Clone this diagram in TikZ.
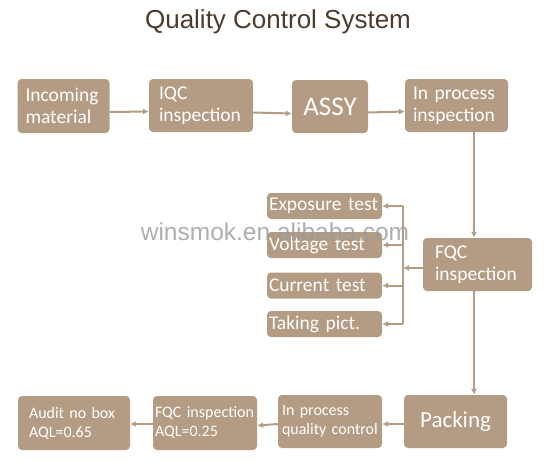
\documentclass[tikz,border=0pt]{standalone}
\usepackage{fontspec}
\setmainfont{Liberation Sans}
\newfontfamily\carlito{Carlito}
\usetikzlibrary{arrows.meta}
\definecolor{boxc}{HTML}{B39C83}
\definecolor{arrc}{HTML}{B39C83}
\definecolor{titlec}{HTML}{4B3B2C}
\definecolor{wmc}{HTML}{9A9A9A}
\newcommand{\nohy}{\hyphenpenalty=10000\exhyphenpenalty=10000\relax}
\tikzset{
  box/.style={rectangle, rounded corners=4pt, fill=boxc, text=white, inner ysep=0pt, align=left},
  arr/.style={draw=arrc, line width=2pt, -{Latex[length=6pt,width=6pt]}},
  ln/.style={draw=arrc, line width=2pt},
  big/.style={font=\carlito\nohy\fontsize{19.5}{22}\selectfont},
  test/.style={box, minimum width=115pt, minimum height=26pt, inner xsep=2pt, text width=111pt, font=\carlito\nohy\fontsize{19.5}{22}\selectfont},
  small/.style={font=\carlito\nohy\fontsize{16}{19}\selectfont}
}
\begin{document}
\begin{tikzpicture}[x=1pt,y=-1pt]
\useasboundingbox (0,0) rectangle (548,461);
\node[font=\fontsize{26}{29}\selectfont, text=titlec] (title) at (278,22) {Quality Control System};
% top row
\node[box, big, minimum width=92pt, minimum height=54pt, inner xsep=8pt, text width=76pt] (inc) at (63.5,106) {Incoming\\material};
\node[box, big, minimum width=104pt, minimum height=53pt, inner xsep=10pt, text width=84pt] (iqc) at (201,105.5) {IQC\\inspection};
\node[box, minimum width=76pt, minimum height=53pt, inner xsep=0pt, align=center, font=\carlito\fontsize{27}{30}\selectfont] (assy) at (330,106.5) {ASSY};
\node[box, big, minimum width=103pt, minimum height=53pt, inner xsep=8pt, text width=87pt] (ipi) at (456.5,105.5) {In~process\\inspection};
% middle
\node[box, big, minimum width=109pt, minimum height=53pt, inner xsep=12pt, text width=85pt] (fqc) at (477.5,264.5) {FQC\\inspection};
\node[test] (t1) at (324.5,206) {Exposure~test};
\node[test] (t2) at (324.5,245) {Voltage~test};
\node[test] (t3) at (324.5,285.5) {Current~test};
\node[test] (t4) at (324.5,324) {Taking~pict.};
% bottom row
\node[box, minimum width=103pt, minimum height=53pt, inner xsep=0pt, align=center, font=\carlito\fontsize{23}{26}\selectfont] (pack) at (455.5,421.5) {Packing};
\node[box, small, minimum width=104pt, minimum height=53pt, inner xsep=4pt, text width=96pt] (ipqc) at (330,421.5) {In~process\\quality~control};
\node[box, small, minimum width=104pt, minimum height=54pt, inner xsep=2pt, text width=100pt] (fqc2) at (205,423) {FQC~inspection\\AQL=0.25};
\node[box, small, minimum width=112pt, minimum height=54pt, inner xsep=11pt, text width=90pt] (audit) at (74,423) {Audit~no~box\\AQL=0.65};
% connectors
\draw[arr] ([yshift=-6pt]inc.east) -- ([yshift=-6pt]iqc.west);
\draw[arr] ([yshift=-7pt]iqc.east) -- ([yshift=-7pt]assy.west);
\draw[arr] ([yshift=-6pt]assy.east) -- ([yshift=-6pt]ipi.west);
\draw[arr] ([xshift=17.5pt]ipi.south) -- ([xshift=-3.5pt]fqc.north);
\coordinate (br) at (403,268);
\draw[arr] ([yshift=-3.5pt]fqc.west) -- (br);
\draw[ln] (t1.east -| br) -- (t4.east -| br);
\draw[arr] (t1.east -| br) -- (t1.east);
\draw[arr] (t2.east -| br) -- (t2.east);
\draw[arr] (t3.east -| br) -- (t3.east);
\draw[arr] (t4.east -| br) -- (t4.east);
\draw[arr] ([xshift=-3.5pt]fqc.south) -- ([xshift=18.5pt]pack.north);
\draw[arr] ([yshift=-2.5pt]pack.west) -- ([yshift=-2.5pt]ipqc.east);
\draw[arr] ([yshift=-2.5pt]ipqc.west) -- ([yshift=-2.5pt]fqc2.east);
\draw[arr] ([yshift=-1pt]fqc2.west) -- ([yshift=-1pt]audit.east);
% watermark
\node[font=\fontsize{24.5}{26}\selectfont, text=wmc, opacity=0.8] (wm) at (275,232) {winsmok.en.alibaba.com};
\end{tikzpicture}
\end{document}
